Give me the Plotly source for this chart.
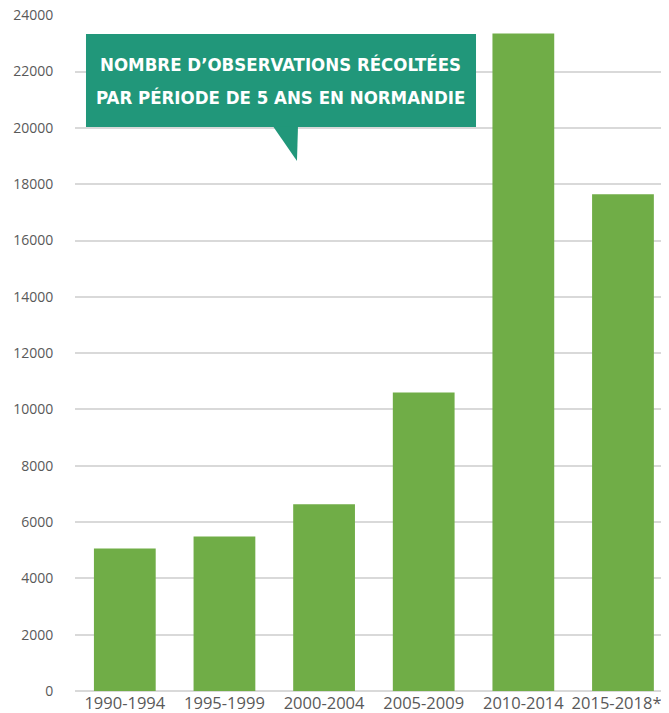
import plotly.graph_objects as go

categories = ["1990-1994", "1995-1999", "2000-2004", "2005-2009", "2010-2014", "2015-2018*"]
values = [5060, 5490, 6630, 10600, 23350, 17640]
y_ticks = [0, 2000, 4000, 6000, 8000, 10000, 12000, 14000, 16000, 18000, 20000, 22000, 24000]
title_lines = ["NOMBRE D’OBSERVATIONS RÉCOLTÉES", "PAR PÉRIODE DE 5 ANS EN NORMANDIE"]

BAR = "#70AD47"
BOX = "#21977A"
GRID = "#D9D9D9"
TXT = "#595959"

# the last label is nudged left (as the original does) so it fits in the frame
x_ticktext = categories[:-1] + [categories[-1] + "\u00a0\u00a0\u00a0"]

fig = go.Figure(go.Bar(
    x=categories, y=values, marker=dict(color=BAR, line=dict(width=0)),
    width=0.62, hoverinfo="skip",
))

fig.update_layout(
    width=669, height=705,
    margin=dict(l=67, r=8, t=7, b=22),
    paper_bgcolor="white", plot_bgcolor="white",
    showlegend=False,
    xaxis=dict(
        range=[-0.5, 5.462], showgrid=False, zeroline=False, showline=False,
        tickvals=categories, ticktext=x_ticktext,
        tickfont=dict(family="Open Sans", size=16.5, color=TXT),
        ticks="", automargin=False, ticklabeloverflow="allow",
    ),
    yaxis=dict(
        range=[0, 24010], tickvals=y_ticks, ticktext=[str(v) for v in y_ticks],
        showgrid=True, gridcolor=GRID, gridwidth=2,
        zeroline=True, zerolinecolor=GRID, zerolinewidth=2, showline=False,
        tickfont=dict(family="Open Sans", size=14, color=TXT),
        ticks="outside", ticklen=18, tickcolor="rgba(0,0,0,0)",
        automargin=False, ticklabeloverflow="allow",
    ),
    shapes=[
        dict(type="rect", xref="paper", yref="paper",
             x0=0.0185, x1=0.6751, y0=0.8343, y1=0.9719,
             fillcolor=BOX, line=dict(width=0), layer="above"),
        dict(type="path", xref="paper", yref="paper",
             path="M 0.3333 0.8353 L 0.3754 0.8353 L 0.3737 0.7840 Z",
             fillcolor=BOX, line=dict(width=0), layer="above"),
    ],
    annotations=[
        dict(xref="paper", yref="paper", x=0.3468, y=y,
             text=line, showarrow=False,
             xanchor="center", yanchor="middle", align="center",
             font=dict(family="DejaVu Sans Condensed", size=18.5, color="white",
                       weight="bold"))
        for line, y in zip(title_lines, [0.927, 0.878])
    ],
)

fig.write_html("out.html")
